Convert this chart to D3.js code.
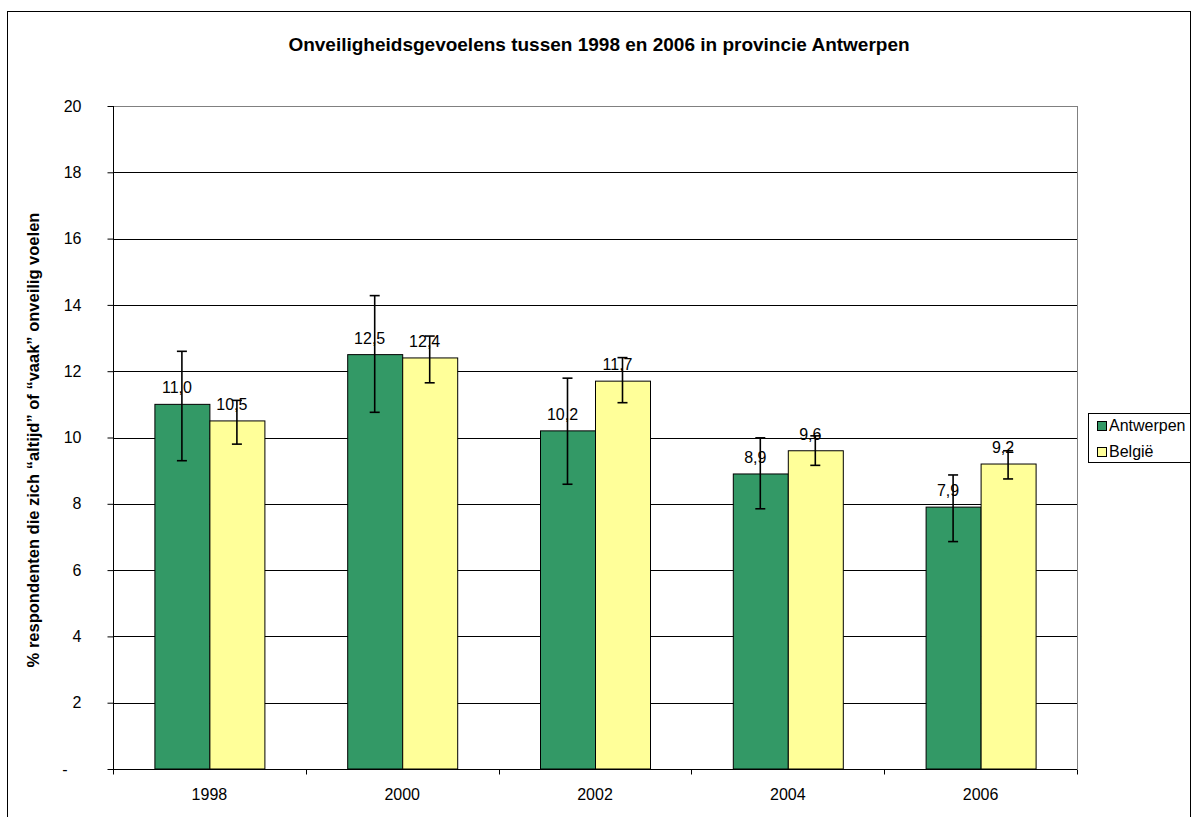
<!DOCTYPE html>
<html>
<head>
<meta charset="utf-8">
<script src="https://cdn.jsdelivr.net/npm/d3@7"></script>
<style>
  body { margin: 0; background: #fff; }
  svg { font-family: "Liberation Sans", Arial, sans-serif; }
</style>
</head>
<body>
<script>
// data
var years = ["1998", "2000", "2002", "2004", "2006"];
var series = ["Antwerpen", "België"];
var antwerpen = [11.0, 12.5, 10.2, 8.9, 7.9];
var belgie = [10.5, 12.4, 11.7, 9.6, 9.2];
// error bar bounds (low, high)
var antwerpenLow = [9.3, 10.76, 8.59, 7.85, 6.86];
var antwerpenHigh = [12.6, 14.28, 11.79, 9.99, 8.87];
var belgieLow = [9.8, 11.65, 11.05, 9.16, 8.75];
var belgieHigh = [11.12, 13.06, 12.41, 10.05, 9.6];
var yTicks = [0, 2, 4, 6, 8, 10, 12, 14, 16, 18, 20];
var colors = ["#339966", "#FFFF99"];

var width = 1198, height = 817;
var plot = { left: 113, right: 1077, top: 106, bottom: 769 };

var svg = d3.select("body").append("svg")
    .attr("width", width)
    .attr("height", height);

// chart border
svg.append("rect")
    .attr("x", 7.5).attr("y", 11.5)
    .attr("width", 1183).attr("height", 830)
    .attr("fill", "none").attr("stroke", "#000").attr("stroke-width", 1);

var x0 = d3.scaleBand().domain(years).range([plot.left, plot.right]);
var groupW = 110;
var x1 = d3.scaleBand().domain(series).range([0, groupW]);
var y = d3.scaleLinear().domain([0, 20]).range([plot.bottom, plot.top]);

// gridlines
svg.append("g")
  .selectAll("line")
  .data(yTicks.filter(function(d) { return d > 0; }))
  .enter().append("line")
    .attr("x1", plot.left).attr("x2", plot.right)
    .attr("y1", function(d) { return Math.round(y(d)) + 0.5; })
    .attr("y2", function(d) { return Math.round(y(d)) + 0.5; })
    .attr("stroke", function(d) { return d === 20 ? "#808080" : "#000"; })
    .attr("stroke-width", 1);

// plot area right border
svg.append("line")
    .attr("x1", plot.right + 0.5).attr("x2", plot.right + 0.5)
    .attr("y1", plot.top).attr("y2", plot.bottom)
    .attr("stroke", "#808080");

// bars
var rows = years.map(function(yr, i) {
  return [
    { year: yr, s: series[0], v: antwerpen[i], lo: antwerpenLow[i], hi: antwerpenHigh[i], c: colors[0] },
    { year: yr, s: series[1], v: belgie[i], lo: belgieLow[i], hi: belgieHigh[i], c: colors[1] }
  ];
});

var groups = svg.append("g")
  .selectAll("g")
  .data(rows)
  .enter().append("g")
    .attr("transform", function(d) {
      return "translate(" + (x0(d[0].year) + (x0.bandwidth() - groupW) / 2) + ",0)";
    });

groups.selectAll("rect")
  .data(function(d) { return d; })
  .enter().append("rect")
    .attr("x", function(d) { return x1(d.s) + 0.5; })
    .attr("y", function(d) { return y(d.v); })
    .attr("width", x1.bandwidth())
    .attr("height", function(d) { return y(0) - y(d.v); })
    .attr("fill", function(d) { return d.c; })
    .attr("stroke", "#000").attr("stroke-width", 1);

// error bars
var eb = groups.selectAll("g.err")
  .data(function(d) { return d; })
  .enter().append("g").attr("class", "err")
    .attr("stroke", "#000").attr("stroke-width", 1.6);
eb.append("line")
    .attr("x1", function(d) { return x1(d.s) + x1.bandwidth() / 2; })
    .attr("x2", function(d) { return x1(d.s) + x1.bandwidth() / 2; })
    .attr("y1", function(d) { return y(d.lo); })
    .attr("y2", function(d) { return y(d.hi); });
eb.selectAll("line.cap")
  .data(function(d) { return [d.lo, d.hi].map(function(v) { return { s: d.s, v: v }; }); })
  .enter().append("line").attr("class", "cap")
    .attr("x1", function(d) { return x1(d.s) + x1.bandwidth() / 2 - 5; })
    .attr("x2", function(d) { return x1(d.s) + x1.bandwidth() / 2 + 5; })
    .attr("y1", function(d) { return y(d.v); })
    .attr("y2", function(d) { return y(d.v); });

// value labels
groups.selectAll("text")
  .data(function(d) { return d; })
  .enter().append("text")
    .attr("x", function(d) { return x1(d.s) + x1.bandwidth() / 2 - 5; })
    .attr("y", function(d) { return y(d.v) - 11; })
    .attr("text-anchor", "middle")
    .attr("font-size", 16)
    .attr("fill", "#000")
    .text(function(d) { return d.v.toFixed(1).replace(".", ","); });

// y axis
var yAxis = svg.append("g")
    .attr("transform", "translate(" + (plot.left + 0.5) + ",0)")
    .call(d3.axisLeft(y).tickValues(yTicks).tickSize(6).tickPadding(26)
      .tickFormat(function(d) { return d === 0 ? "-" : d; }));
yAxis.select(".domain").attr("stroke", "#000").attr("d", "M0," + plot.top + "V" + (plot.bottom + 4));
yAxis.selectAll(".tick line").attr("stroke", "#000");
yAxis.selectAll("text").attr("font-size", 16).attr("fill", "#000")
    .attr("font-family", "Liberation Sans, Arial, sans-serif");
yAxis.selectAll(".tick").filter(function(d) { return d === 0; })
    .select("text").attr("x", -46);

// x axis
var xAxis = svg.append("g")
    .attr("transform", "translate(0," + (plot.bottom + 0.5) + ")");
xAxis.append("line")
    .attr("x1", plot.left).attr("x2", plot.right)
    .attr("stroke", "#000");
xAxis.selectAll("line.tk")
  .data(years.concat(["end"]))
  .enter().append("line").attr("class", "tk")
    .attr("x1", function(d, i) { return Math.round(plot.left + i * x0.bandwidth()) + 0.5; })
    .attr("x2", function(d, i) { return Math.round(plot.left + i * x0.bandwidth()) + 0.5; })
    .attr("y1", 0).attr("y2", 5)
    .attr("stroke", "#000");
xAxis.selectAll("text")
  .data(years)
  .enter().append("text")
    .attr("x", function(d) { return x0(d) + x0.bandwidth() / 2; })
    .attr("y", 30)
    .attr("text-anchor", "middle")
    .attr("font-size", 16)
    .text(function(d) { return d; });

// title
svg.append("text")
    .attr("x", 599).attr("y", 51)
    .attr("text-anchor", "middle")
    .attr("font-size", 19).attr("font-weight", "bold")
    .text("Onveiligheidsgevoelens tussen 1998 en 2006 in provincie Antwerpen");

// y axis title
svg.append("text")
    .attr("transform", "translate(39,440) rotate(-90)")
    .attr("text-anchor", "middle")
    .attr("font-size", 16.5).attr("font-weight", "bold")
    .text("% respondenten die zich \u201Caltijd\u201D of \u201Cvaak\u201D onveilig voelen");

// legend
var legend = svg.append("g");
legend.append("rect")
    .attr("x", 1088.5).attr("y", 413.5)
    .attr("width", 102).attr("height", 49)
    .attr("fill", "#fff").attr("stroke", "#000");
var li = legend.selectAll("g")
  .data(series)
  .enter().append("g")
    .attr("transform", function(d, i) { return "translate(1097," + (421 + i * 26) + ")"; });
li.append("rect")
    .attr("x", 0.5).attr("y", 0.5).attr("width", 9).attr("height", 9)
    .attr("fill", function(d, i) { return colors[i]; })
    .attr("stroke", "#000");
li.append("text")
    .attr("x", 12).attr("y", 10)
    .attr("font-size", 16)
    .text(function(d) { return d; });
</script>
</body>
</html>
